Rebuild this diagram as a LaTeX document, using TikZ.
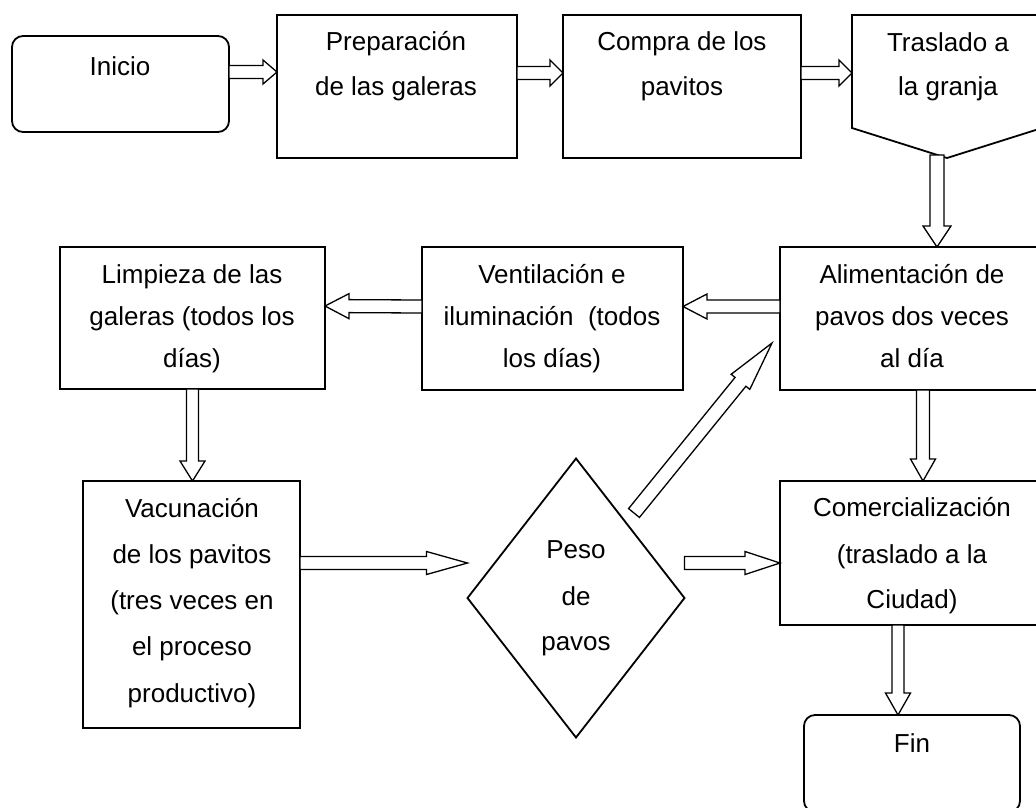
\documentclass[tikz,border=0pt]{standalone}
\usepackage{fontspec}
\setmainfont{Liberation Sans}
\usetikzlibrary{calc,shapes.geometric}
% block (hollow) arrow: start, end, head length, shaft half width, head half width
\newcommand\blockarr[5]{%
  \coordinate (ba-s) at (#1);
  \coordinate (ba-e) at (#2);
  \coordinate (ba-h) at ($(ba-e)!#3!(ba-s)$);
  \draw[blk] ($(ba-s)!#4!90:(ba-e)$) -- ($(ba-h)!#4!-90:(ba-s)$) -- ($(ba-h)!#5!-90:(ba-s)$) -- (ba-e) -- ($(ba-h)!#5!90:(ba-s)$) -- ($(ba-h)!#4!90:(ba-s)$) -- ($(ba-s)!#4!-90:(ba-e)$) -- cycle;
}
\begin{document}
\begin{tikzpicture}[x=1pt,y=-1pt,
  box/.style={draw, line width=1.8pt, inner sep=0pt, outer sep=0pt},
  blk/.style={draw, line width=1.3pt, fill=white, line join=miter},
  txt/.style={anchor=base, inner sep=0pt, font=\fontsize{26}{30}\selectfont}]
\useasboundingbox (0,0) rectangle (1036,807);
\clip (0,0) rectangle (1036,807);

% boxes
\node[box, rounded corners=11pt, minimum width=217pt, minimum height=96pt] (inicio) at (120.5,84) {};
\node[box, minimum width=240pt, minimum height=143pt] (prep) at (397,86.5) {};
\node[box, minimum width=238pt, minimum height=143pt] (compra) at (682,86.5) {};
\node[inner sep=0pt, outer sep=0pt, minimum width=190pt, minimum height=143pt] (traslado) at (947,86.5) {};
\draw[line width=1.8pt, line join=miter] (traslado.north west) -- (traslado.north east) -- ([yshift=30pt]traslado.south east) -- (traslado.south) -- ([yshift=30pt]traslado.south west) -- cycle;
\node[box, minimum width=265pt, minimum height=142pt] (limpieza) at (192.5,318) {};
\node[box, minimum width=261pt, minimum height=143pt] (ventilacion) at (552.5,318.5) {};
\node[box, minimum width=264pt, minimum height=143pt] (alimentacion) at (912,318.5) {};
\node[box, minimum width=217pt, minimum height=247pt] (vacunacion) at (191.5,604.5) {};
\node[box, shape=diamond, minimum width=217pt, minimum height=279pt] (peso) at (576,598) {};
\node[box, minimum width=264pt, minimum height=144pt] (comercializacion) at (912,553) {};
\node[box, rounded corners=11pt, minimum width=216pt, minimum height=97pt] (fin) at (912,763.5) {};

% texts
\node[txt] (t-inicio) at (120,75) {Inicio};
\node[txt] (t-prep1) at (396,50) {Preparación};
\node[txt] (t-prep2) at (396,95) {de las galeras};
\node[txt] (t-compra1) at (682,50) {Compra de los};
\node[txt] (t-compra2) at (682,95) {pavitos};
\node[txt] (t-tras1) at (948,51) {Traslado a};
\node[txt] (t-tras2) at (948,95) {la granja};
\node[txt] (t-limp1) at (192,283) {Limpieza de las};
\node[txt] (t-limp2) at (192,325) {galeras (todos los};
\node[txt] (t-limp3) at (192,367) {días)};
\node[txt] (t-vent1) at (552,283) {Ventilación e};
\node[txt] (t-vent2) at (552,325) {iluminación~~(todos};
\node[txt] (t-vent3) at (552,367) {los días)};
\node[txt] (t-alim1) at (912,283) {Alimentación de};
\node[txt] (t-alim2) at (912,325) {pavos dos veces};
\node[txt] (t-alim3) at (912,367) {al día};
\node[txt] (t-vac1) at (192,517) {Vacunación};
\node[txt] (t-vac2) at (192,563) {de los pavitos};
\node[txt] (t-vac3) at (192,609) {(tres veces en};
\node[txt] (t-vac4) at (192,655) {el proceso};
\node[txt] (t-vac5) at (192,702) {productivo)};
\node[txt] (t-peso1) at (576,558) {Peso};
\node[txt] (t-peso2) at (576,605) {de};
\node[txt] (t-peso3) at (576,650) {pavos};
\node[txt] (t-com1) at (912,516) {Comercialización};
\node[txt] (t-com2) at (912,563) {(traslado a la};
\node[txt] (t-com3) at (912,608) {Ciudad)};
\node[txt] (t-fin) at (912,752) {Fin};

% connectors
\blockarr{[yshift=12pt]inicio.east}{[yshift=14.5pt]prep.west}{14pt}{6.5pt}{12pt}
\blockarr{[yshift=13.5pt]prep.east}{[yshift=13.5pt]compra.west}{13pt}{6.5pt}{13pt}
\blockarr{[yshift=13.5pt]compra.east}{[yshift=13.5pt]traslado.west}{13pt}{6.5pt}{13pt}
\blockarr{[xshift=-10pt,yshift=3pt]traslado.south}{[xshift=25pt]alimentacion.north}{21pt}{7pt}{14pt}
\blockarr{[yshift=12pt]alimentacion.west}{[yshift=12pt]ventilacion.east}{24pt}{6.5pt}{12.5pt}
\blockarr{[yshift=12pt]ventilacion.west}{[yshift=12pt]limpieza.east}{24pt}{6.5pt}{12.5pt}
\blockarr{limpieza.south}{limpieza.south |- vacunacion.north}{20pt}{6pt}{12.5pt}
\blockarr{[yshift=41.5pt]vacunacion.east}{[yshift=35pt]peso.west}{41pt}{6.5pt}{11.5pt}
\blockarr{[yshift=35pt]peso.east}{[yshift=-10pt]comercializacion.west}{35pt}{6.5pt}{11.5pt}
\blockarr{[xshift=58pt,yshift=85pt]peso.center}{[xshift=-8pt,yshift=47pt]alimentacion.south west}{50pt}{7pt}{12pt}
\blockarr{[xshift=11pt]alimentacion.south}{[xshift=11pt]comercializacion.north}{22pt}{6.5pt}{12.5pt}
\blockarr{[xshift=-14pt]comercializacion.south}{[xshift=-14pt]fin.north}{22pt}{6pt}{12.5pt}
\end{tikzpicture}
\end{document}
